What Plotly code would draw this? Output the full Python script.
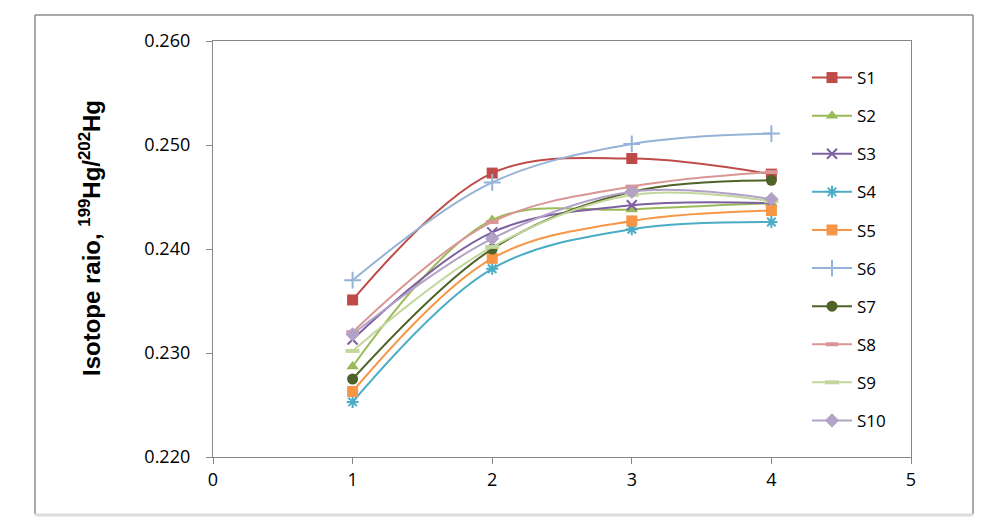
import plotly.graph_objects as go

x_vals = [1, 2, 3, 4]
series_names = ["S1", "S2", "S3", "S4", "S5", "S6", "S7", "S8", "S9", "S10"]
S1 = [0.2351, 0.2473, 0.2487, 0.2472]
S2 = [0.2287, 0.2428, 0.2438, 0.2444]
S3 = [0.2313, 0.2416, 0.2442, 0.2444]
S4 = [0.2253, 0.2381, 0.2419, 0.2426]
S5 = [0.2263, 0.2391, 0.2427, 0.2437]
S6 = [0.2370, 0.2464, 0.2501, 0.2511]
S7 = [0.2275, 0.2400, 0.2455, 0.2466]
S8 = [0.2320, 0.2426, 0.2460, 0.2474]
S9 = [0.2302, 0.2402, 0.2452, 0.2446]
S10 = [0.2318, 0.2410, 0.2455, 0.2448]
all_values = [S1, S2, S3, S4, S5, S6, S7, S8, S9, S10]

y_ticks = [0.220, 0.230, 0.240, 0.250, 0.260]
x_ticks = [0, 1, 2, 3, 4, 5]

colors = ["#BE4B48", "#9BBB59", "#7D60A0", "#4BACC6", "#F79646",
          "#95B3D7", "#4F6228", "#D99694", "#C3D69B", "#B3A2C7"]
symbols = ["square", "triangle-up", "x-thin", "asterisk", "square",
           "cross-thin", "circle", "line-ew", "line-ew", "diamond"]
sizes = [11, 11, 10, 10, 11, 12, 11, 9, 10, 11]

OFF = 8  # page body margin
W, H = 1006 - OFF, 523 - OFF
# plot area in screenshot pixels
L, R, T, B = 213 - OFF, 911 - OFF, 41 - OFF, 457 - OFF

fig = go.Figure()
for i, (name, vals) in enumerate(zip(series_names, all_values)):
    sym = symbols[i]
    mk = dict(symbol=sym, size=sizes[i], color=colors[i])
    if sym in ("x-thin", "asterisk", "cross-thin"):
        mk["line"] = dict(color=colors[i], width=2)
    elif sym == "line-ew":
        mk["line"] = dict(color=colors[i], width=4)
    else:
        mk["line"] = dict(color=colors[i], width=0)
    fig.add_trace(go.Scatter(
        x=x_vals, y=vals, name=name, mode="lines+markers",
        line=dict(color=colors[i], width=2, shape="spline"),
        marker=mk, legendgroup=name,
    ))

def px_x(px):
    return (px - OFF - L) / (R - L)

def px_y(py):
    return (B - (py - OFF)) / (B - T)

# outer chart border
fig.add_shape(type="line", xref="paper", yref="paper",
              x0=px_x(35), x1=px_x(35), y0=px_y(514), y1=px_y(15),
              line=dict(color="#8c8c8c", width=1.5))
fig.add_shape(type="line", xref="paper", yref="paper",
              x0=px_x(35), x1=px_x(973), y0=px_y(15), y1=px_y(15),
              line=dict(color="#8c8c8c", width=1.5))
fig.add_shape(type="line", xref="paper", yref="paper",
              x0=px_x(973), x1=px_x(973), y0=px_y(15), y1=px_y(514),
              line=dict(color="#8c8c8c", width=1.5))
fig.add_shape(type="line", xref="paper", yref="paper",
              x0=px_x(35), x1=px_x(973), y0=px_y(515), y1=px_y(515),
              line=dict(color="#dcdcdc", width=3))

fig.add_annotation(
    text="<b>Isotope raio, <sup>199</sup>Hg/<sup>202</sup>Hg</b>",
    xref="paper", yref="paper", x=px_x(90), y=px_y(238),
    xanchor="center", yanchor="middle",
    textangle=-90, showarrow=False,
    font=dict(family="Liberation Sans, Arial", size=24, color="#000000"),
)

axis_common = dict(
    showline=True, linecolor="#868686", linewidth=1.3,
    ticks="outside", tickcolor="#868686", ticklen=6,
    showgrid=False, zeroline=False, mirror=True,
    tickfont=dict(family="Open Sans, Liberation Sans", size=18, color="#000000"),
)

fig.update_layout(
    width=W, height=H,
    margin=dict(l=L, r=W - R, t=T, b=H - B),
    paper_bgcolor="white", plot_bgcolor="white",
    showlegend=True,
    legend=dict(
        x=px_x(807), y=px_y(60), xanchor="left", yanchor="top",
        font=dict(family="Open Sans, Liberation Sans", size=17, color="#000000"),
        tracegroupgap=13, bgcolor="rgba(0,0,0,0)",
        itemwidth=40,
    ),
    xaxis=dict(range=[0, 5], tickvals=x_ticks, ticktext=[str(v) for v in x_ticks],
               ticklabelstandoff=0, **axis_common),
    yaxis=dict(range=[0.220, 0.260], tickvals=y_ticks,
               ticktext=["%.3f" % v for v in y_ticks],
               ticklabelstandoff=12, **axis_common),
)
fig.write_html("out.html")
